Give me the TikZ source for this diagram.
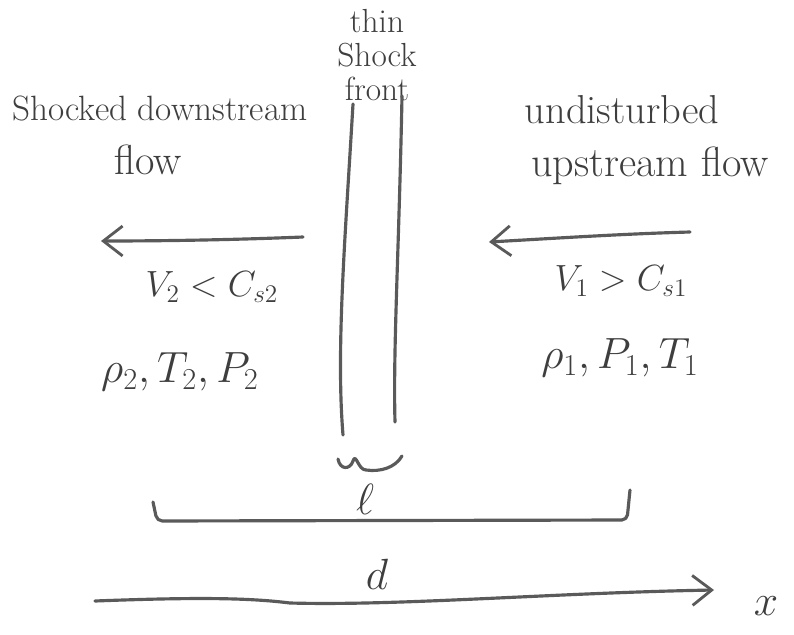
\documentclass[tikz,border=0pt]{standalone}
\usetikzlibrary{arrows.meta}
\definecolor{pencil}{HTML}{5A5A5A}
\definecolor{ink}{HTML}{3E3E3E}
\begin{document}
\begin{tikzpicture}[x=0.02cm,y=-0.02cm,
  pencilline/.style={draw=pencil, line width=1.8pt, line cap=round, line join=round},
  barb/.style={-{Straight Barb[length=11pt,width=17pt,line width=1.6pt]}},
  lbl/.style={text=ink, font=\fontsize{20}{22}\selectfont, inner sep=0pt},
  mlbl/.style={text=ink, font=\fontsize{21}{24}\selectfont, inner sep=0pt}]
\useasboundingbox (0,0) rectangle (794,635);
\fill[white] (0,0) rectangle (794,635);

% labels
\node[lbl, align=center, font=\fontsize{19}{19.5}\selectfont] (front) at (377,55) {thin\\Shock\\front};
\node[lbl] (down) at (160,108) {Shocked downstream};
\node[lbl, font=\fontsize{24}{26}\selectfont] (downflow) at (148,160) {flow};
\node[lbl, font=\fontsize{23}{26}\selectfont] (undist) at (622,110) {undisturbed};
\node[lbl, font=\fontsize{24}{26}\selectfont] (upflow) at (650,166) {upstream flow};
\node[mlbl] (v2) at (212,287) {$V_2 < C_{s2}$};
\node[mlbl, font=\fontsize{23}{26}\selectfont] (st2) at (180,372) {$\rho_2, T_2, P_2$};
\node[mlbl] (v1) at (621,281) {$V_1 > C_{s1}$};
\node[mlbl, font=\fontsize{24}{26}\selectfont] (st1) at (620,358) {$\rho_1, P_1, T_1$};
\node[mlbl, font=\fontsize{26}{28}\selectfont] (ell) at (365,499) {$\ell$};
\node[mlbl, font=\fontsize{26}{28}\selectfont] (dlab) at (377,574) {$d$};
\node[mlbl, font=\fontsize{30}{32}\selectfont] (xlab) at (766,606) {$x$};

% shock front lines
\coordinate (sl0) at (353,104); \coordinate (sl1) at (343,435);
\coordinate (sr0) at (402,96);  \coordinate (sr1) at (395,422);
\draw[pencilline] (sl0) .. controls (345,240) and (336,350) .. (sl1);
\draw[pencilline] (sr0) .. controls (399,250) and (393,350) .. (sr1);

% flow arrows
\coordinate (la1) at (303,237); \coordinate (la0) at (101,241);
\coordinate (ra1) at (690,232); \coordinate (ra0) at (489,242);
\draw[pencilline, barb] (la1) .. controls (230,240) and (160,241) .. (la0);
\draw[pencilline, barb] (ra1) .. controls (620,234) and (560,238) .. (ra0);

% squiggle
\coordinate (sq0) at (338,459); \coordinate (sq1) at (402,456);
\draw[pencilline] (sq0) .. controls (340,470) and (350,470) .. (353,461)
  .. controls (356,452) and (358,470) .. (366,470)
  .. controls (380,472) and (395,468) .. (sq1);

% bracket for l
\coordinate (b0) at (153,502); \coordinate (b1) at (157,521);
\coordinate (b2) at (627,520); \coordinate (b3) at (630,490);
\draw[pencilline, rounded corners=3pt] (b0) -- (b1) -- (b2) -- (b3);

% x axis
\coordinate (ax0) at (95,601); \coordinate (ax1) at (714,590);
\draw[pencilline, barb] (ax0) .. controls (200,597) and (250,598) .. (290,603)
  .. controls (400,606) and (550,593) .. (ax1);
\end{tikzpicture}
\end{document}
